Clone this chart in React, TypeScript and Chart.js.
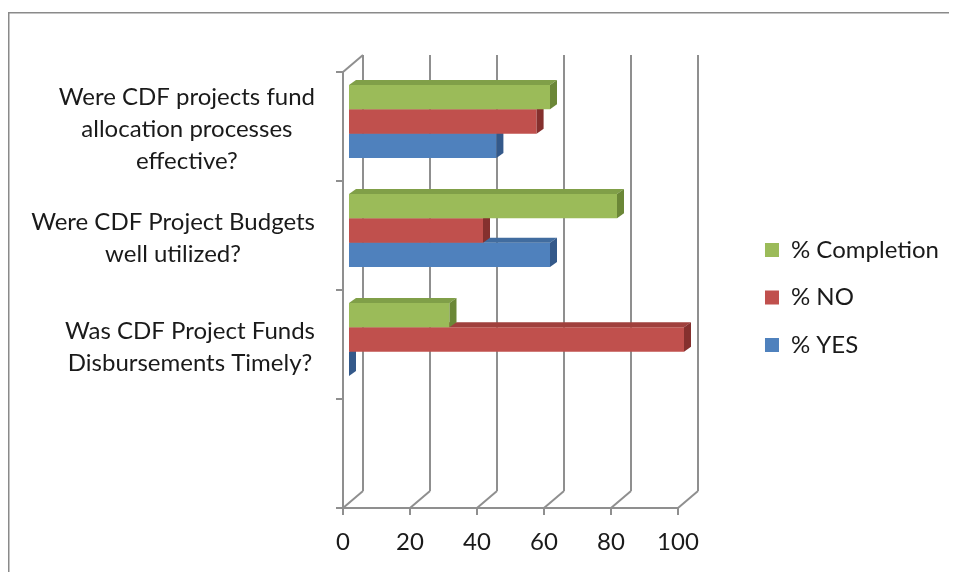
import React, { useEffect, useRef } from 'react';
import { Chart, registerables } from 'chart.js';

Chart.register(...registerables);

// ---------- data ----------
const categories: (string | string[])[] = [
  ['Were CDF projects fund', 'allocation processes', 'effective?'],
  ['Were CDF Project Budgets', 'well utilized?'],
  ['Was CDF Project Funds', 'Disbursements Timely?'],
  '',
];
const seriesNames = ['% Completion', '% NO', '% YES'];
const completionValues = [60, 80, 30, null];
const noValues = [56, 40, 100, null];
const yesValues = [44, 60, 0, null];
const xTickValues = [0, 20, 40, 60, 80, 100];

// ---------- styles ----------
const FONT = 'Lato';
const FS = 24;
const LINE_H = 32;
const TEXT = '#1a1a1a';
const FRONT = ['#9BBB59', '#C0504D', '#4F81BD'];
const TOPF = ['#809F48', '#A0403D', '#416C9F'];
const SIDE = ['#6B8737', '#85302E', '#34598A'];
const GRID = '#8f8f8f';

const CW = 941;
const CH = 564;
const PLOT_LEFT = 341;
const PLOT_RIGHT = 676;
const PLOT_TOP = 59;
const X_AXIS_H = 62;
const PAD_BOTTOM = 7;
const LEG_PAD = 23.5;
const BOX = 14;
const BOX_X = 761;
const LEGEND_LEFT = BOX_X - LEG_PAD;
const Y_LABEL_RIGHT = 307;
const Y_LABEL_SHIFT = 8;

// 3D offsets
const FX = -6, FY = 5; // front plane relative to bar plane
const BX = 14, BY = -12; // back wall relative to bar plane
const DX = 7, DY = -5; // bar depth

function line(ctx: CanvasRenderingContext2D, x1: number, y1: number, x2: number, y2: number) {
  ctx.beginPath();
  ctx.moveTo(x1, y1);
  ctx.lineTo(x2, y2);
  ctx.stroke();
}

const framePlugin = {
  id: 'frame',
  beforeDraw(chart: any) {
    const ctx = chart.ctx;
    ctx.save();
    ctx.fillStyle = '#ffffff';
    ctx.fillRect(0, 0, chart.width, chart.height);
    ctx.strokeStyle = '#8a8a8a';
    ctx.lineWidth = 1.5;
    ctx.strokeRect(0.75, 4.75, chart.width + 50, chart.height + 50);
    ctx.restore();
  },
};

const wallsPlugin = {
  id: 'walls3d',
  beforeDatasetsDraw(chart: any) {
    const { ctx } = chart;
    const x = chart.scales.x;
    const y = chart.scales.y;
    const top = y.getPixelForValue(-0.5);
    const bottom = y.getPixelForValue(categories.length - 0.5);
    const x0 = x.getPixelForValue(xTickValues[0]);
    const xN = x.getPixelForValue(xTickValues[xTickValues.length - 1]);
    ctx.save();
    ctx.strokeStyle = GRID;
    ctx.lineWidth = 2;
    for (const v of xTickValues) {
      const px = x.getPixelForValue(v);
      line(ctx, px + BX, top + BY, px + BX, bottom + BY);
      line(ctx, px + FX, bottom + FY, px + BX, bottom + BY);
      line(ctx, px + FX, bottom + FY, px + FX, bottom + FY + 7);
    }
    line(ctx, x0 + FX - 1, bottom + FY, xN + FX, bottom + FY);
    line(ctx, x0 + FX, top + FY, x0 + FX, bottom + FY);
    line(ctx, x0 + FX, top + FY, x0 + BX, top + BY);
    for (let i = 0; i <= categories.length; i++) {
      const py = y.getPixelForValue(i - 0.5);
      line(ctx, x0 + FX - 7, py + FY, x0 + FX, py + FY);
    }
    ctx.restore();
  },
  afterDraw(chart: any) {
    // category labels: block right-aligned, lines centred (as in the original)
    const { ctx } = chart;
    const y = chart.scales.y;
    ctx.save();
    ctx.font = `${FS}px ${FONT}`;
    ctx.fillStyle = TEXT;
    ctx.textAlign = 'center';
    ctx.textBaseline = 'middle';
    categories.forEach((lab, i) => {
      const lines = Array.isArray(lab) ? lab : [lab];
      if (!lines.join('')) return;
      const widest = Math.max(...lines.map((l) => ctx.measureText(l).width));
      const cx = Y_LABEL_RIGHT - widest / 2;
      const cy = y.getPixelForValue(i) + Y_LABEL_SHIFT;
      lines.forEach((l, j) => {
        ctx.fillText(l, cx, cy + (j - (lines.length - 1) / 2) * LINE_H);
      });
    });
    ctx.restore();
  },
};

const barFacesPlugin = {
  id: 'barFaces',
  afterDatasetDraw(chart: any, args: any) {
    const { ctx } = chart;
    const meta = args.meta;
    const di = args.index;
    ctx.save();
    meta.data.forEach((el: any, i: number) => {
      const v = chart.data.datasets[di].data[i];
      if (v === null || v === undefined) return;
      const p = el.getProps(['x', 'y', 'base', 'height'], true);
      const left = Math.min(p.base, p.x);
      const right = Math.max(p.base, p.x);
      const t = p.y - p.height / 2;
      const b = p.y + p.height / 2;
      if (right - left > 0.5) {
        ctx.fillStyle = TOPF[di];
        ctx.beginPath();
        ctx.moveTo(left, t);
        ctx.lineTo(left + DX, t + DY);
        ctx.lineTo(right + DX, t + DY);
        ctx.lineTo(right, t);
        ctx.closePath();
        ctx.fill();
      }
      ctx.fillStyle = SIDE[di];
      ctx.beginPath();
      ctx.moveTo(right, t);
      ctx.lineTo(right + DX, t + DY);
      ctx.lineTo(right + DX, b + DY);
      ctx.lineTo(right, b);
      ctx.closePath();
      ctx.fill();
    });
    ctx.restore();
  },
};

export default function App() {
  const ref = useRef<HTMLCanvasElement>(null);
  useEffect(() => {
    if (!ref.current) return;
    const m = document.createElement('canvas').getContext('2d')!;
    m.font = `${FS}px ${FONT}`;
    const textW = Math.max(...seriesNames.map((s) => m.measureText(s).width));
    const legendW = LEG_PAD + BOX + FS / 2 + textW + 10;
    const padRight = Math.max(0, CW - LEGEND_LEFT - legendW);
    const y2W = Math.max(0, CW - padRight - legendW - PLOT_RIGHT);

    const values = [completionValues, noValues, yesValues];
    const chart = new Chart(ref.current, {
      type: 'bar',
      data: {
        labels: categories as any,
        datasets: seriesNames.map((name, i) => ({
          label: name,
          data: values[i] as any,
          backgroundColor: FRONT[i],
          borderWidth: 0,
          categoryPercentage: 0.67,
          barPercentage: 1.0,
        })),
      },
      options: {
        indexAxis: 'y',
        responsive: false,
        animation: false,
        devicePixelRatio: 1,
        events: [],
        layout: { padding: { top: PLOT_TOP, bottom: PAD_BOTTOM, left: 0, right: padRight } },
        scales: {
          x: {
            type: 'linear',
            min: 0,
            max: 100,
            ticks: {
              stepSize: 20,
              padding: 25,
              labelOffset: FX,
              color: TEXT,
              font: { family: FONT, size: FS },
            },
            grid: { display: false, drawTicks: false },
            border: { display: false },
            afterFit: (s: any) => {
              s.height = X_AXIS_H;
            },
          },
          y: {
            type: 'category',
            ticks: { display: false },
            grid: { display: false, drawTicks: false },
            border: { display: false },
            afterFit: (s: any) => {
              s.width = PLOT_LEFT;
            },
          },
          y2: {
            type: 'category',
            axis: 'y',
            position: 'right',
            display: true,
            ticks: { display: false },
            grid: { display: false, drawTicks: false },
            border: { display: false },
            afterFit: (s: any) => {
              s.width = y2W;
            },
          },
        },
        plugins: {
          legend: {
            position: 'right',
            fullSize: false,
            maxWidth: 400,
            title: { display: true, text: ' ', padding: 0, font: { size: 20, lineHeight: 25 / 20 } },
            labels: {
              boxWidth: BOX,
              boxHeight: BOX,
              padding: LEG_PAD,
              color: TEXT,
              font: { family: FONT, size: FS },
            },
          },
          tooltip: { enabled: false },
        },
      } as any,
      plugins: [framePlugin, wallsPlugin, barFacesPlugin],
    });
    return () => chart.destroy();
  }, []);

  return (
    <div style={{ width: CW, height: CH }}>
      <canvas ref={ref} width={CW} height={CH} style={{ display: 'block', width: CW, height: CH }} />
    </div>
  );
}
